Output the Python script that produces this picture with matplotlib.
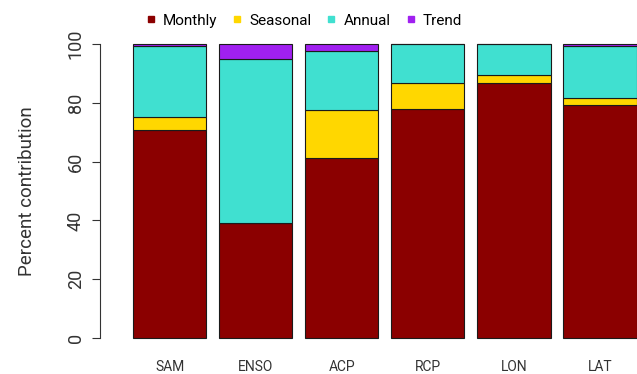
import matplotlib.pyplot as plt
from matplotlib.lines import Line2D
import numpy as np

plt.rcParams['font.family'] = ['Roboto', 'DejaVu Sans']

# percent contribution of each time scale
predictors = ['SAM', 'ENSO', 'ACP', 'RCP', 'LON', 'LAT']
monthly = [70.7, 39.1, 61.2, 77.8, 86.6, 79.3]
seasonal = [4.5, 0.0, 16.4, 9.0, 2.9, 2.4]
annual = [24.1, 55.8, 20.0, 13.2, 10.5, 17.4]
trend = [0.7, 5.1, 2.4, 0.0, 0.0, 0.9]

series = [monthly, seasonal, annual, trend]
names = ['Monthly', 'Seasonal', 'Annual', 'Trend']
colors = ['#8B0000', '#FFD700', '#40E0D0', '#A020F0']

fig = plt.figure(figsize=(6.37, 3.74), dpi=100)
ax = fig.add_axes([100/637, (374-350)/374, 537/637, (350-32)/374])

x = np.arange(len(predictors))
bottom = np.zeros(len(predictors))
for vals, c in zip(series, colors):
    ax.bar(x, vals, bottom=bottom, width=0.85, color=c, edgecolor='#1a1a1a', linewidth=0.8)
    bottom += np.array(vals)

ax.set_xlim(-0.81, 5.43)
ax.set_ylim(-4, 104)

# R-style axes: only the left axis, drawn from 0 to 100
for s in ['top', 'right', 'bottom']:
    ax.spines[s].set_visible(False)
ax.spines['left'].set_bounds(0, 100)
ax.spines['left'].set_color('#333333')
ax.set_yticks([0, 20, 40, 60, 80, 100])
ax.set_yticklabels(['0', '20', '40', '60', '80', '100'], rotation=90, va='center', fontsize=13, color='#333333')
ax.tick_params(axis='y', length=6, pad=5, color='#333333')
ax.set_xticks(x)
ax.set_xticklabels(predictors, fontsize=10, color='#333333')
ax.tick_params(axis='x', length=0, pad=7)
ax.set_ylabel('Percent contribution', fontsize=13.5, color='#333333', labelpad=22)

handles = [Line2D([], [], marker='s', linestyle='none', markersize=5, color=c) for c in colors]
fig.legend(handles, names, loc='center', bbox_to_anchor=(0.475, 0.945), ncol=4, frameon=False,
           fontsize=11, handletextpad=0.3, columnspacing=0.8, handlelength=1)

fig.savefig('out.png', dpi=100)
